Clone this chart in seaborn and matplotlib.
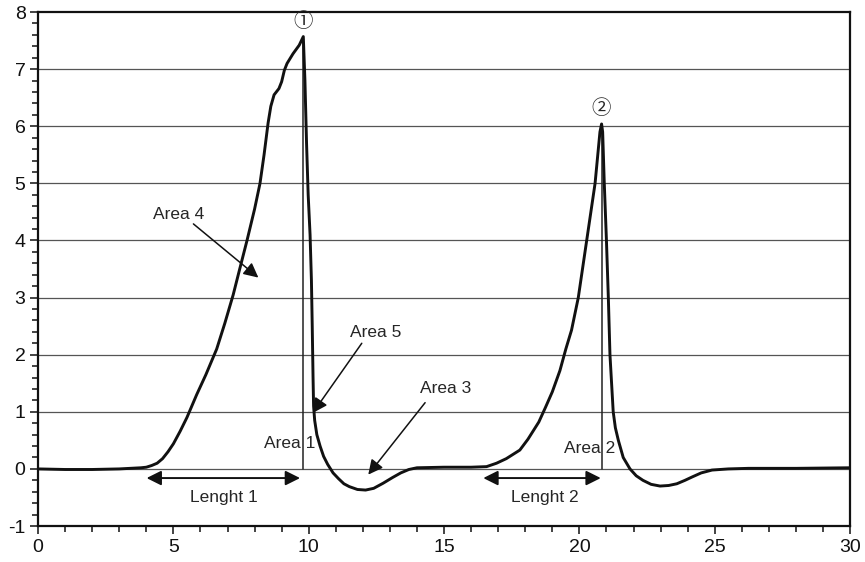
import numpy as np
import pandas as pd
import matplotlib
matplotlib.use("Agg")
import matplotlib.pyplot as plt
from matplotlib.ticker import MultipleLocator
import seaborn as sns

# --- data ---
time_s = [0.0, 1.0, 2.0, 3.0, 3.8, 4.0, 4.2, 4.4, 4.6, 4.8, 5.0, 5.25, 5.5,
          5.86, 6.2, 6.6, 6.9, 7.21, 7.45, 7.72, 8.0, 8.2, 8.35, 8.5, 8.6,
          8.72, 8.9, 9.0, 9.1, 9.2, 9.42, 9.65, 9.8,
          9.86, 9.92, 9.98, 10.05, 10.1, 10.13, 10.16, 10.18, 10.22, 10.3,
          10.42, 10.55, 10.7, 10.9, 11.1, 11.3, 11.5, 11.8, 12.1, 12.4,
          12.75, 13.1, 13.4, 13.7, 14.0, 15.0, 16.0,
          16.57, 16.94, 17.3, 17.8, 18.1, 18.5, 18.75, 19.0, 19.28, 19.5,
          19.71, 19.96, 20.27, 20.58, 20.76, 20.82,
          20.86, 20.92, 21.0, 21.07, 21.13, 21.25, 21.33, 21.44, 21.62, 21.87,
          22.1, 22.35, 22.65, 22.98, 23.3, 23.6, 23.9, 24.17, 24.5, 24.9,
          25.5, 26.25, 28.0, 30.0]
signal = [0.0, -0.01, -0.01, 0.0, 0.02, 0.03, 0.06, 0.1, 0.18, 0.3, 0.44, 0.66, 0.9,
          1.3, 1.65, 2.1, 2.55, 3.05, 3.5, 4.0, 4.55, 5.0, 5.5, 6.06, 6.35,
          6.55, 6.66, 6.78, 6.98, 7.1, 7.27, 7.42, 7.57,
          6.8, 5.7, 4.8, 4.1, 3.3, 2.5, 1.6, 1.1, 0.85, 0.6,
          0.4, 0.22, 0.08, -0.07, -0.17, -0.26, -0.31, -0.36, -0.37, -0.34,
          -0.25, -0.15, -0.07, -0.01, 0.02, 0.03, 0.03,
          0.04, 0.1, 0.18, 0.33, 0.52, 0.82, 1.08, 1.35, 1.72, 2.1,
          2.43, 3.0, 4.0, 5.0, 5.9, 6.04,
          5.9, 5.0, 4.0, 3.0, 2.0, 1.0, 0.72, 0.5, 0.2, 0.0,
          -0.12, -0.2, -0.27, -0.3, -0.29, -0.26, -0.2, -0.14, -0.07, -0.02,
          0.0, 0.01, 0.01, 0.02]

peak_x = [9.8, 20.82]
peak_y = [7.57, 6.04]
peak_marks = ["①", "②"]

area_labels = ["Area 4", "Area 5", "Area 3"]
area_text_xy = [(5.2, 4.45), (12.46, 2.38), (15.07, 1.4)]
area_tail_xy = [(5.74, 4.29), (11.96, 2.2), (14.3, 1.16)]
area_tip_xy = [(8.14, 3.35), (10.15, 0.98), (12.2, -0.1)]

peak_area_labels = ["Area 1", "Area 2"]
peak_area_xy = [(9.31, 0.45), (20.39, 0.36)]

length_labels = ["Lenght 1", "Lenght 2"]
length_span = [(4.01, 9.68), (16.45, 20.79)]
length_text_x = [6.87, 18.72]

# --- styling ---
sns.set_theme(style="white")
plt.rcParams["font.family"] = ["Liberation Sans", "DejaVu Sans", "Noto Sans CJK JP"]
plt.rcParams["axes.unicode_minus"] = False

fig = plt.figure(figsize=(8.65, 5.62), dpi=100)
ax = fig.add_axes([0.044, 0.064, 0.9387, 0.9146])

df = pd.DataFrame({"t": time_s, "v": signal})
sns.lineplot(data=df, x="t", y="v", ax=ax, color="#111111", linewidth=2.1,
             sort=False, zorder=4)

# vertical lines under each peak
for px, py in zip(peak_x, peak_y):
    ax.plot([px, px], [0, py], color="#222222", linewidth=1.1, zorder=3)

for px, py, mark in zip(peak_x, peak_y, peak_marks):
    ax.text(px, py + 0.27, mark, ha="center", va="center", fontsize=14,
            family=["Noto Sans CJK JP", "DejaVu Sans"])

arrow_kw = dict(arrowstyle="-|>", mutation_scale=22, color="#111111", lw=1.1,
                shrinkA=0, shrinkB=0)
for label, txy, tail, tip in zip(area_labels, area_text_xy, area_tail_xy, area_tip_xy):
    ax.text(txy[0], txy[1], label, ha="center", va="center", fontsize=12.5)
    ax.annotate("", xy=tip, xytext=tail, arrowprops=arrow_kw, zorder=5)

for label, xy in zip(peak_area_labels, peak_area_xy):
    ax.text(xy[0], xy[1], label, ha="center", va="center", fontsize=12.5, zorder=2)

dbl_kw = dict(arrowstyle="<|-|>", mutation_scale=22, color="#111111", lw=1.4,
              shrinkA=0, shrinkB=0)
for label, (x0, x1), tx in zip(length_labels, length_span, length_text_x):
    ax.annotate("", xy=(x1, -0.16), xytext=(x0, -0.16), arrowprops=dbl_kw)
    ax.text(tx, -0.5, label, ha="center", va="center", fontsize=12.5)

ax.set_xlim(0, 30)
ax.set_ylim(-1, 8)
ax.set_xlabel("")
ax.set_ylabel("")
ax.xaxis.set_major_locator(MultipleLocator(5))
ax.xaxis.set_minor_locator(MultipleLocator(1))
ax.yaxis.set_major_locator(MultipleLocator(1))
ax.yaxis.set_minor_locator(MultipleLocator(0.2))
ax.tick_params(which="both", direction="out", color="#111111", width=1.1,
               bottom=True, left=True, labelsize=14, labelcolor="#111111", pad=3)
ax.tick_params(which="major", length=6)
ax.tick_params(which="minor", length=4.5)

ax.grid(False)
for yv in range(0, 8):
    ax.axhline(yv, color="#555555", linewidth=0.9, zorder=1)

for side in ["left", "bottom", "top", "right"]:
    ax.spines[side].set_color("#111111")
    ax.spines[side].set_linewidth(1.6)

fig.savefig("out.png", dpi=100)
